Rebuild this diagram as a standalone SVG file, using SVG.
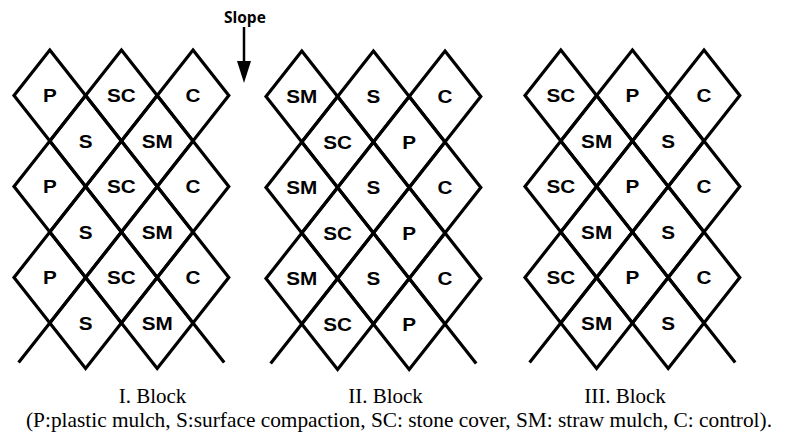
<svg xmlns="http://www.w3.org/2000/svg" xmlns:xlink="http://www.w3.org/1999/xlink" width="790" height="443" viewBox="0 0 790 443">
<style>
.dia{fill:none;stroke:#000;stroke-width:3.2;stroke-linejoin:miter}
.end{fill:none;stroke:#000;stroke-width:3.2}
.lbl{font-family:"Liberation Sans",Arial,sans-serif;font-weight:bold;font-size:18px;text-anchor:middle;fill:#000}
.cap{font-family:"Liberation Serif","Times New Roman",serif;font-size:21px;fill:#000}
.slope{font-family:"Open Sans","Liberation Sans",sans-serif;font-weight:bold;font-size:15.5px;fill:#000}
.arrow{stroke:#000;stroke-width:2.5;fill:none}
</style>
<defs>
<path id="d" class="dia" d="M0,-45.5 L35.8,0 L0,45.5 L-35.8,0 Z"/>
<marker id="ah" markerUnits="userSpaceOnUse" markerWidth="22" markerHeight="14" viewBox="0 0 22 14" refX="14" refY="7" orient="auto"><path d="M0,0 L22,7 L0,14 Z" fill="#000"/></marker>
</defs>
<rect width="790" height="443" fill="#fff"/>

<g id="block1" transform="translate(14,50)">
<g id="b1-1"><use href="#d" x="35.8" y="45.5"/><text class="lbl" transform="translate(35.8 52) scale(1.15 1)">P</text></g>
<g id="b1-2"><use href="#d" x="107.4" y="45.5"/><text class="lbl" transform="translate(107.4 52) scale(1.15 1)">SC</text></g>
<g id="b1-3"><use href="#d" x="179" y="45.5"/><text class="lbl" transform="translate(179 52) scale(1.15 1)">C</text></g>
<g id="b1-4"><use href="#d" x="71.6" y="91"/><text class="lbl" transform="translate(71.6 97.5) scale(1.15 1)">S</text></g>
<g id="b1-5"><use href="#d" x="143.2" y="91"/><text class="lbl" transform="translate(143.2 97.5) scale(1.15 1)">SM</text></g>
<g id="b1-6"><use href="#d" x="35.8" y="136.5"/><text class="lbl" transform="translate(35.8 143) scale(1.15 1)">P</text></g>
<g id="b1-7"><use href="#d" x="107.4" y="136.5"/><text class="lbl" transform="translate(107.4 143) scale(1.15 1)">SC</text></g>
<g id="b1-8"><use href="#d" x="179" y="136.5"/><text class="lbl" transform="translate(179 143) scale(1.15 1)">C</text></g>
<g id="b1-9"><use href="#d" x="71.6" y="182"/><text class="lbl" transform="translate(71.6 188.5) scale(1.15 1)">S</text></g>
<g id="b1-10"><use href="#d" x="143.2" y="182"/><text class="lbl" transform="translate(143.2 188.5) scale(1.15 1)">SM</text></g>
<g id="b1-11"><use href="#d" x="35.8" y="227.5"/><text class="lbl" transform="translate(35.8 234) scale(1.15 1)">P</text></g>
<g id="b1-12"><use href="#d" x="107.4" y="227.5"/><text class="lbl" transform="translate(107.4 234) scale(1.15 1)">SC</text></g>
<g id="b1-13"><use href="#d" x="179" y="227.5"/><text class="lbl" transform="translate(179 234) scale(1.15 1)">C</text></g>
<g id="b1-14"><use href="#d" x="71.6" y="273"/><text class="lbl" transform="translate(71.6 279.5) scale(1.15 1)">S</text></g>
<g id="b1-15"><use href="#d" x="143.2" y="273"/><text class="lbl" transform="translate(143.2 279.5) scale(1.15 1)">SM</text></g>
<path id="b1-ends" class="end" d="M35.8,273 L4.6,312.6 M179,273 L210.2,312.6"/>
</g>

<g id="block2" transform="translate(266,51)">
<g id="b2-1"><use href="#d" x="35.8" y="45.5"/><text class="lbl" transform="translate(35.8 52) scale(1.15 1)">SM</text></g>
<g id="b2-2"><use href="#d" x="107.4" y="45.5"/><text class="lbl" transform="translate(107.4 52) scale(1.15 1)">S</text></g>
<g id="b2-3"><use href="#d" x="179" y="45.5"/><text class="lbl" transform="translate(179 52) scale(1.15 1)">C</text></g>
<g id="b2-4"><use href="#d" x="71.6" y="91"/><text class="lbl" transform="translate(71.6 97.5) scale(1.15 1)">SC</text></g>
<g id="b2-5"><use href="#d" x="143.2" y="91"/><text class="lbl" transform="translate(143.2 97.5) scale(1.15 1)">P</text></g>
<g id="b2-6"><use href="#d" x="35.8" y="136.5"/><text class="lbl" transform="translate(35.8 143) scale(1.15 1)">SM</text></g>
<g id="b2-7"><use href="#d" x="107.4" y="136.5"/><text class="lbl" transform="translate(107.4 143) scale(1.15 1)">S</text></g>
<g id="b2-8"><use href="#d" x="179" y="136.5"/><text class="lbl" transform="translate(179 143) scale(1.15 1)">C</text></g>
<g id="b2-9"><use href="#d" x="71.6" y="182"/><text class="lbl" transform="translate(71.6 188.5) scale(1.15 1)">SC</text></g>
<g id="b2-10"><use href="#d" x="143.2" y="182"/><text class="lbl" transform="translate(143.2 188.5) scale(1.15 1)">P</text></g>
<g id="b2-11"><use href="#d" x="35.8" y="227.5"/><text class="lbl" transform="translate(35.8 234) scale(1.15 1)">SM</text></g>
<g id="b2-12"><use href="#d" x="107.4" y="227.5"/><text class="lbl" transform="translate(107.4 234) scale(1.15 1)">S</text></g>
<g id="b2-13"><use href="#d" x="179" y="227.5"/><text class="lbl" transform="translate(179 234) scale(1.15 1)">C</text></g>
<g id="b2-14"><use href="#d" x="71.6" y="273"/><text class="lbl" transform="translate(71.6 279.5) scale(1.15 1)">SC</text></g>
<g id="b2-15"><use href="#d" x="143.2" y="273"/><text class="lbl" transform="translate(143.2 279.5) scale(1.15 1)">P</text></g>
<path id="b2-ends" class="end" d="M35.8,273 L4.6,312.6 M179,273 L210.2,312.6"/>
</g>

<g id="block3" transform="translate(525,50)">
<g id="b3-1"><use href="#d" x="35.8" y="45.5"/><text class="lbl" transform="translate(35.8 52) scale(1.15 1)">SC</text></g>
<g id="b3-2"><use href="#d" x="107.4" y="45.5"/><text class="lbl" transform="translate(107.4 52) scale(1.15 1)">P</text></g>
<g id="b3-3"><use href="#d" x="179" y="45.5"/><text class="lbl" transform="translate(179 52) scale(1.15 1)">C</text></g>
<g id="b3-4"><use href="#d" x="71.6" y="91"/><text class="lbl" transform="translate(71.6 97.5) scale(1.15 1)">SM</text></g>
<g id="b3-5"><use href="#d" x="143.2" y="91"/><text class="lbl" transform="translate(143.2 97.5) scale(1.15 1)">S</text></g>
<g id="b3-6"><use href="#d" x="35.8" y="136.5"/><text class="lbl" transform="translate(35.8 143) scale(1.15 1)">SC</text></g>
<g id="b3-7"><use href="#d" x="107.4" y="136.5"/><text class="lbl" transform="translate(107.4 143) scale(1.15 1)">P</text></g>
<g id="b3-8"><use href="#d" x="179" y="136.5"/><text class="lbl" transform="translate(179 143) scale(1.15 1)">C</text></g>
<g id="b3-9"><use href="#d" x="71.6" y="182"/><text class="lbl" transform="translate(71.6 188.5) scale(1.15 1)">SM</text></g>
<g id="b3-10"><use href="#d" x="143.2" y="182"/><text class="lbl" transform="translate(143.2 188.5) scale(1.15 1)">S</text></g>
<g id="b3-11"><use href="#d" x="35.8" y="227.5"/><text class="lbl" transform="translate(35.8 234) scale(1.15 1)">SC</text></g>
<g id="b3-12"><use href="#d" x="107.4" y="227.5"/><text class="lbl" transform="translate(107.4 234) scale(1.15 1)">P</text></g>
<g id="b3-13"><use href="#d" x="179" y="227.5"/><text class="lbl" transform="translate(179 234) scale(1.15 1)">C</text></g>
<g id="b3-14"><use href="#d" x="71.6" y="273"/><text class="lbl" transform="translate(71.6 279.5) scale(1.15 1)">SM</text></g>
<g id="b3-15"><use href="#d" x="143.2" y="273"/><text class="lbl" transform="translate(143.2 279.5) scale(1.15 1)">S</text></g>
<path id="b3-ends" class="end" d="M35.8,273 L4.6,312.6 M179,273 L210.2,312.6"/>
</g>

<g id="slope">
<text class="slope" x="224" y="23">Slope</text>
</g>
<g id="connectors">
<path class="arrow" d="M244,27 L244,75" marker-end="url(#ah)"/>
</g>

<g id="captions">
<text class="cap" x="152.5" y="403" text-anchor="middle">I. Block</text>
<text class="cap" x="385.5" y="403" text-anchor="middle">II. Block</text>
<text class="cap" x="625" y="403" text-anchor="middle">III. Block</text>
<text class="cap" x="26" y="427" textLength="746" lengthAdjust="spacingAndGlyphs">(P:plastic mulch, S:surface compaction, SC: stone cover, SM: straw mulch, C: control).</text>
</g>
</svg>
